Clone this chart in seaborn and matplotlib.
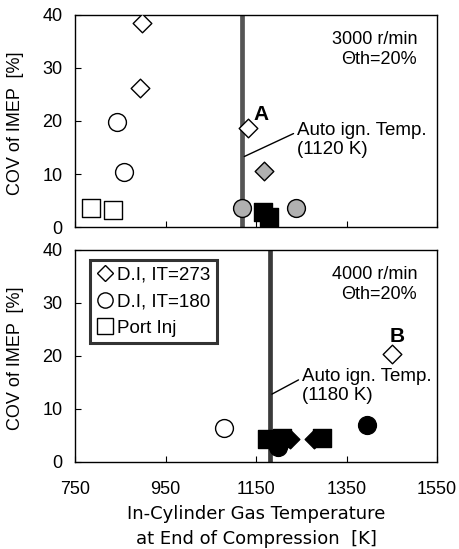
import matplotlib
matplotlib.use("Agg")
import matplotlib.pyplot as plt
import seaborn as sns
import pandas as pd
from matplotlib.lines import Line2D

sns.set_style("white")
plt.rcParams['font.family'] = ['Liberation Sans', 'DejaVu Sans']
plt.rcParams['text.color'] = 'black'
plt.rcParams['axes.labelcolor'] = 'black'
plt.rcParams['xtick.color'] = 'black'
plt.rcParams['ytick.color'] = 'black'

# ---- data (3000 r/min, top panel) ----
top_di273_T = [897, 894, 1132, 1168]
top_di273_cov = [38.4, 26.3, 18.7, 10.6]
top_di273_fill = ['white', 'white', 'white', 'gray']

top_di180_T = [842, 859, 1120, 1238]
top_di180_cov = [19.8, 10.3, 3.6, 3.6]
top_di180_fill = ['white', 'white', 'gray', 'gray']

top_port_T = [785, 835, 1166, 1178]
top_port_cov = [3.5, 3.2, 2.8, 1.8]
top_port_fill = ['white', 'white', 'black', 'black']

# ---- data (4000 r/min, bottom panel) ----
bot_di273_T = [1450, 1226, 1277]
bot_di273_cov = [20.3, 4.3, 4.4]
bot_di273_fill = ['white', 'black', 'black']

bot_di180_T = [1080, 1198, 1395]
bot_di180_cov = [6.5, 2.8, 7.0]
bot_di180_fill = ['white', 'black', 'black']

bot_port_T = [1175, 1208, 1295]
bot_port_cov = [4.4, 4.6, 4.6]
bot_port_fill = ['black', 'black', 'black']

auto_ign = [1120, 1180]
speeds = ['3000 r/min', '4000 r/min']
x_ticks = [750, 950, 1150, 1350, 1550]
y_ticks = [0, 10, 20, 30, 40]

fill_colors = {'white': 'white', 'gray': '#b0b0b0', 'black': 'black'}
marker_map = {'di273': 'D', 'di180': 'o', 'port': 's'}
size_map = {'di273': 90, 'di180': 165, 'port': 160}

fig = plt.figure(figsize=(4.59, 5.49), dpi=100)
ax1 = fig.add_axes([0.1634, 0.5865, 0.789, 0.3862])
ax2 = fig.add_axes([0.1634, 0.1585, 0.789, 0.3862])

def make_df(T, cov, fill, group):
    return pd.DataFrame({'T': T, 'cov': cov, 'fill': fill, 'group': group})

panels = [
    (ax1, [make_df(top_di273_T, top_di273_cov, top_di273_fill, 'di273'),
           make_df(top_di180_T, top_di180_cov, top_di180_fill, 'di180'),
           make_df(top_port_T, top_port_cov, top_port_fill, 'port')]),
    (ax2, [make_df(bot_di273_T, bot_di273_cov, bot_di273_fill, 'di273'),
           make_df(bot_di180_T, bot_di180_cov, bot_di180_fill, 'di180'),
           make_df(bot_port_T, bot_port_cov, bot_port_fill, 'port')]),
]

for i, (ax, dfs) in enumerate(panels):
    ax.axvline(auto_ign[i], color='#555555' if i == 0 else '#3a3a3a', lw=3.4, zorder=2)
    for df in dfs:
        g = df['group'].iloc[0]
        for fk, sub in df.groupby('fill'):
            sns.scatterplot(data=sub, x='T', y='cov', ax=ax, marker=marker_map[g],
                            s=size_map[g], color=fill_colors[fk], edgecolor='black',
                            linewidth=1.0, zorder=3 if fk != 'black' else 4, legend=False)
    ax.set_xlim(750, 1550)
    ax.set_ylim(0, 40)
    ax.set_xticks(x_ticks)
    ax.set_yticks(y_ticks)
    ax.tick_params(direction='in', length=4, width=0.8, labelsize=13,
                   bottom=True, left=True, top=False, right=False)
    ax.tick_params(axis='y', pad=9)
    ax.tick_params(axis='x', pad=14)
    ax.set_ylabel('COV of IMEP  [%]', fontsize=13)
    ax.yaxis.set_label_coords(-0.14, 0.49)
    ax.set_xlabel('')
    for sp in ax.spines.values():
        sp.set_color('black')
        sp.set_linewidth(1.0)
    ax.text(0.945, 0.925, speeds[i] + '\n\u0398th=20%', transform=ax.transAxes,
            ha='right', va='top', fontsize=13, linespacing=1.25)

ax1.tick_params(labelbottom=False)
ax2.set_xlabel('In-Cylinder Gas Temperature\nat End of Compression  [K]',
               fontsize=13, labelpad=5, linespacing=1.45, family='DejaVu Sans')

# annotations
ax1.annotate('Auto ign. Temp.\n(1120 K)', xy=(1124, 13.3), xytext=(1240, 16.4),
             fontsize=13.5, ha='left', va='center', linespacing=1.2,
             arrowprops=dict(arrowstyle='-', color='black', lw=1.0, shrinkA=0, shrinkB=0,
                             relpos=(0, 0.72)))
ax1.text(1162, 21.2, 'A', fontsize=15, fontweight='bold', ha='center', va='center')

ax2.annotate('Auto ign. Temp.\n(1180 K)', xy=(1185, 12.8), xytext=(1251, 14.3),
             fontsize=13.5, ha='left', va='center', linespacing=1.2,
             arrowprops=dict(arrowstyle='-', color='black', lw=1.0, shrinkA=0, shrinkB=0,
                             relpos=(0, 0.72)))
ax2.text(1461, 23.6, 'B', fontsize=15, fontweight='bold', ha='center', va='center')

handles = [
    Line2D([], [], marker='D', ls='none', mfc='white', mec='black', ms=8, label='D.I, IT=273'),
    Line2D([], [], marker='o', ls='none', mfc='white', mec='black', ms=11, label='D.I, IT=180'),
    Line2D([], [], marker='s', ls='none', mfc='white', mec='black', ms=11, label='Port Inj'),
]
leg = ax2.legend(handles=handles, loc='upper left', bbox_to_anchor=(0.041, 0.953),
                 fontsize=13.5, frameon=True, fancybox=False, handletextpad=0.2,
                 handlelength=0.9, borderpad=0.35, labelspacing=0.5, borderaxespad=0)
leg.get_frame().set_edgecolor('black')
leg.get_frame().set_linewidth(2.2)

fig.savefig('out.png', dpi=100)
